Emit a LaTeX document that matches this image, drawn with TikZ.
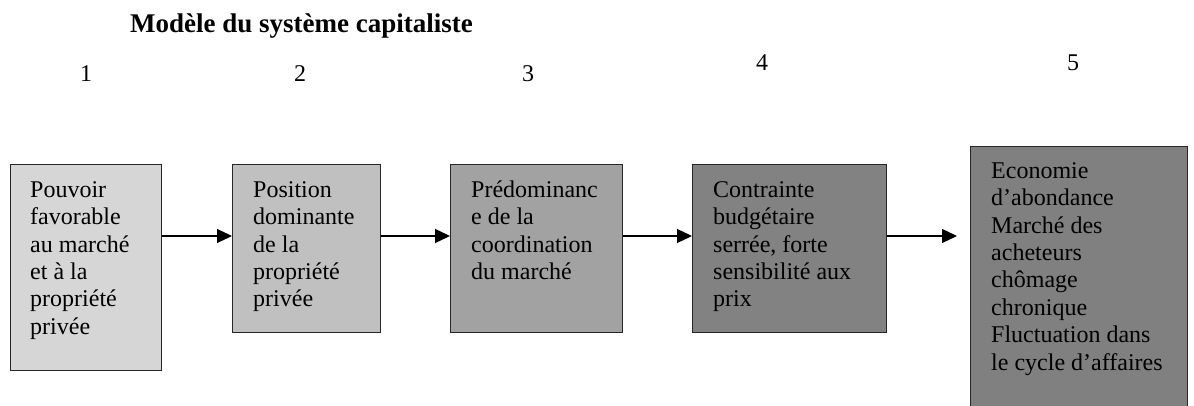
\documentclass[tikz,border=0pt]{standalone}
\usepackage{fontspec}
\setmainfont{Liberation Serif}
\usetikzlibrary{arrows.meta,calc}
\definecolor{gA}{HTML}{D6D6D6}
\definecolor{gB}{HTML}{C0C0C0}
\definecolor{gC}{HTML}{A2A2A2}
\definecolor{gD}{HTML}{828282}
\definecolor{gE}{HTML}{808080}
\tikzset{
  box/.style={draw=black!85, line width=1.3pt, rectangle, inner sep=0pt, anchor=north west},
  boxtext/.style={anchor=north west, inner sep=0pt, align=left, font=\fontsize{24}{27.4}\selectfont},
  num/.style={anchor=base west, inner sep=0pt, font=\fontsize{24}{27.4}\selectfont},
  conn/.style={line width=1.3pt, -{Triangle[length=15pt,width=14pt]}},
}
\begin{document}
\begin{tikzpicture}[x=1pt,y=-1pt]
\useasboundingbox (0,0) rectangle (1194,406);
\clip (0,0) rectangle (1194,406);
\node[anchor=base west, inner sep=0pt, font=\fontsize{27}{31}\selectfont\bfseries] (title) at (130,33) {Modèle du système capitaliste};
\node[num] (n1) at (80,82) {1};
\node[num] (n2) at (294,82) {2};
\node[num] (n3) at (522,82) {3};
\node[num] (n4) at (756,71) {4};
\node[num] (n5) at (1067,71) {5};
\node[box, fill=gA, minimum width=151pt, minimum height=206pt] (b1) at (10,164) {};
\node[box, fill=gB, minimum width=148pt, minimum height=168pt] (b2) at (232,164) {};
\node[box, fill=gC, minimum width=172pt, minimum height=168pt] (b3) at (450,164) {};
\node[box, fill=gD, minimum width=194pt, minimum height=168pt] (b4) at (692,164) {};
\node[box, fill=gE, minimum width=217pt, minimum height=280pt] (b5) at (970,146) {};
\node[boxtext] (t1) at ($(b1.north west)+(20,14)$) {\strut Pouvoir\\favorable\\au marché\\et à la\\propriété\\privée};
\node[boxtext] (t2) at ($(b2.north west)+(21,14)$) {\strut Position\\dominante\\de la\\propriété\\privée};
\node[boxtext] (t3) at ($(b3.north west)+(21,14)$) {\strut Prédominanc\\e de la\\coordination\\du marché};
\node[boxtext] (t4) at ($(b4.north west)+(21,14)$) {\strut Contrainte\\budgétaire\\serrée, forte\\sensibilité aux\\prix};
\node[boxtext] (t5) at ($(b5.north west)+(21,13)$) {\strut Economie\\d’abondance\\Marché des\\acheteurs\\chômage\\chronique\\Fluctuation dans\\le cycle d’affaires};
\coordinate (c45) at (957,236);
\draw[conn] (b1.east |- 0,236) -- (b2.west |- 0,236);
\draw[conn] (b2.east |- 0,236) -- (b3.west |- 0,236);
\draw[conn] (b3.east |- 0,236) -- (b4.west |- 0,236);
\draw[conn] (b4.east |- 0,236) -- (c45);
\end{tikzpicture}
\end{document}
